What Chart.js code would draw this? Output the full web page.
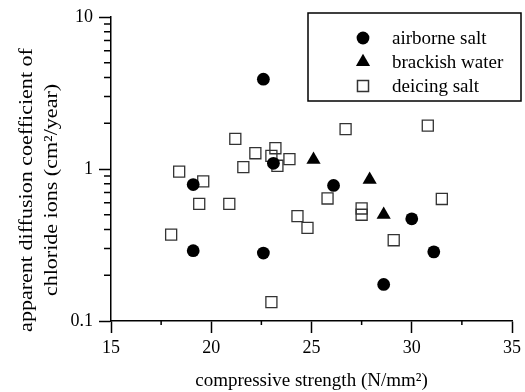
<!DOCTYPE html>
<html>
<head>
<meta charset="utf-8">
<script src="https://cdn.jsdelivr.net/npm/chart.js@4.4.1/dist/chart.umd.min.js"></script>
<style>
  html, body { margin: 0; padding: 0; background: #fff; }
  #wrap { width: 525px; height: 392px; }
</style>
</head>
<body>
<div id="wrap"><canvas id="chart" width="525" height="392"></canvas></div>
<script>
// compressive strength (N/mm2) vs apparent diffusion coefficient (cm2/year)
const seriesNames = ['airborne salt', 'brackish water', 'deicing salt'];
const airborneX = [22.6, 23.1, 19.1, 19.1, 22.6, 26.1, 30.0, 31.1, 28.6];
const airborneY = [3.9, 1.09, 0.79, 0.29, 0.28, 0.78, 0.47, 0.285, 0.174];
const brackishX = [25.1, 27.9, 28.6];
const brackishY = [1.15, 0.85, 0.50];
const deicingX = [21.2, 22.2, 23.2, 23.0, 23.9, 21.6, 23.3, 18.4, 19.6, 26.7, 30.8,
                  19.4, 20.9, 24.3, 24.8, 18.0, 23.0, 25.8, 31.5, 27.5, 27.5, 29.1];
const deicingY = [1.58, 1.27, 1.37, 1.22, 1.16, 1.03, 1.05, 0.96, 0.83, 1.83, 1.93,
                  0.59, 0.59, 0.49, 0.41, 0.37, 0.133, 0.64, 0.635, 0.55, 0.50, 0.34];
const xTicks = [15, 20, 25, 30, 35];
const xMinor = [17.5, 22.5, 27.5, 32.5];
const yTicks = [0.1, 1, 10];
const yMinor = [0.2, 0.3, 0.4, 0.5, 0.6, 0.7, 0.8, 0.9, 2, 3, 4, 5, 6, 7, 8, 9];

const SERIF = '"Liberation Serif", "Times New Roman", serif';
const pts = (xs, ys) => xs.map((x, i) => ({ x: x, y: ys[i] }));

const styles = [
  { pointStyle: 'circle', radius: 6.4, fill: '#000', stroke: '#000', lw: 0 },
  { pointStyle: 'triangle', radius: 8.2, fill: '#000', stroke: '#000', lw: 0 },
  { pointStyle: 'rect', radius: 7.8, fill: 'rgba(0,0,0,0)', stroke: '#333', lw: 1.3 }
];

// minor ticks, legend box, rotated y title
const extras = {
  id: 'extras',
  afterDraw(chart) {
    const ctx = chart.ctx;
    const xs = chart.scales.x, ys = chart.scales.y;
    const area = chart.chartArea;
    ctx.save();
    ctx.strokeStyle = '#000';
    ctx.lineWidth = 1.5;
    ctx.beginPath();
    xMinor.forEach(v => {
      const px = xs.getPixelForValue(v);
      ctx.moveTo(px, area.bottom);
      ctx.lineTo(px, area.bottom + 4);
    });
    yMinor.forEach(v => {
      const py = ys.getPixelForValue(v);
      ctx.moveTo(area.left, py);
      ctx.lineTo(area.left - 7, py);
    });
    ctx.stroke();

    // legend
    ctx.lineWidth = 1.5;
    ctx.strokeRect(308, 13, 213, 88);
    ctx.font = '19px ' + SERIF;
    ctx.textBaseline = 'middle';
    ctx.textAlign = 'left';
    seriesNames.forEach((name, i) => {
      const y = 38 + i * 24;
      const s = styles[i];
      ctx.fillStyle = s.fill;
      ctx.strokeStyle = s.stroke;
      Chart.helpers.drawPoint(ctx, { pointStyle: s.pointStyle, radius: s.radius, rotation: 0, borderWidth: s.lw }, 363, y);
      ctx.fillStyle = '#000';
      ctx.fillText(name, 392, y + 1);
    });

    // y title (stretched along its length like the reference)
    ctx.translate(0, 190);
    ctx.rotate(-Math.PI / 2);
    ctx.scale(1.16, 1);
    ctx.textAlign = 'center';
    ctx.font = '19px ' + SERIF;
    ctx.fillText('apparent diffusion coefficient of', 0, 27);
    ctx.fillText('chloride ions (cm\u00B2/year)', 0, 52);
    ctx.restore();
  }
};

new Chart(document.getElementById('chart'), {
  type: 'scatter',
  data: {
    datasets: [
      { label: seriesNames[0], data: pts(airborneX, airborneY) },
      { label: seriesNames[1], data: pts(brackishX, brackishY) },
      { label: seriesNames[2], data: pts(deicingX, deicingY) }
    ].map((d, i) => Object.assign(d, {
      pointStyle: styles[i].pointStyle,
      pointRadius: styles[i].radius,
      pointHoverRadius: styles[i].radius,
      backgroundColor: styles[i].fill,
      borderColor: styles[i].stroke,
      borderWidth: styles[i].lw
    }))
  },
  options: {
    responsive: false,
    animation: false,
    devicePixelRatio: 1,
    layout: { padding: { left: 0, right: 13, top: 17, bottom: 0 } },
    plugins: { legend: { display: false }, tooltip: { enabled: false } },
    scales: {
      x: {
        type: 'linear', min: 15, max: 35,
        afterBuildTicks: s => { s.ticks = xTicks.map(v => ({ value: v })); },
        afterFit: s => { s.height = 71; },
        border: { display: true, color: '#000', width: 1.5 },
        grid: { drawOnChartArea: false, drawTicks: true, tickLength: 12, tickWidth: 1.5, tickColor: '#000' },
        ticks: { color: '#000', padding: 4, maxRotation: 0, font: { family: SERIF, size: 18 } },
        title: { display: true, text: 'compressive strength (N/mm\u00B2)', color: '#000', padding: 0, font: { family: SERIF, size: 19 } }
      },
      y: {
        type: 'logarithmic', min: 0.1, max: 10,
        afterBuildTicks: s => { s.ticks = yTicks.map(v => ({ value: v })); },
        afterFit: s => { s.width = 111; },
        border: { display: true, color: '#000', width: 1.5 },
        grid: { drawOnChartArea: false, drawTicks: true, tickLength: 12, tickWidth: 1.5, tickColor: '#000' },
        ticks: { color: '#000', padding: 6, font: { family: SERIF, size: 18 }, callback: v => String(v) }
      }
    }
  },
  plugins: [extras]
});
</script>
</body>
</html>
